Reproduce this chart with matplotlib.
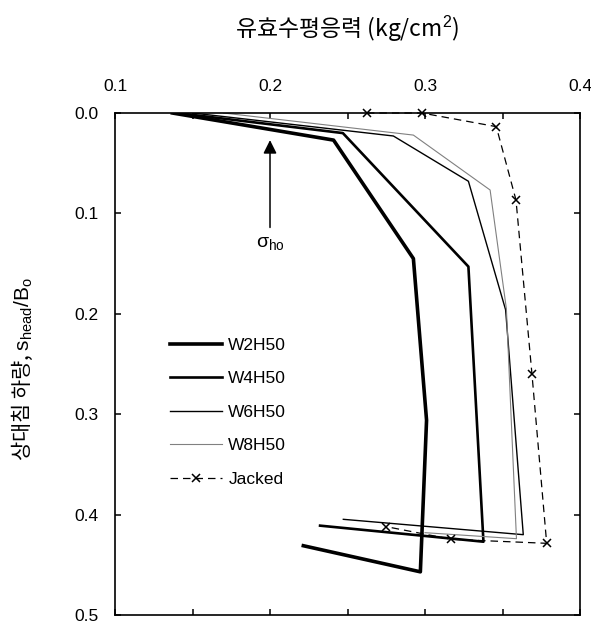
import matplotlib
matplotlib.use('Agg')
import matplotlib.pyplot as plt
from matplotlib.ticker import MultipleLocator

plt.rcParams['font.family'] = ['Liberation Sans', 'Noto Sans CJK KR', 'DejaVu Sans']
plt.rcParams['mathtext.fontset'] = 'custom'
plt.rcParams['mathtext.rm'] = 'Liberation Sans'
plt.rcParams['mathtext.it'] = 'Liberation Sans'

# curves (x: stress, y: relative settlement)
w2_x = [0.137, 0.241, 0.2925, 0.301, 0.297, 0.2215]
w2_y = [0.0, 0.027, 0.145, 0.306, 0.457, 0.431]
w4_x = [0.140, 0.247, 0.328, 0.3377, 0.2323]
w4_y = [0.0, 0.020, 0.153, 0.427, 0.411]
w6_x = [0.150, 0.2796, 0.328, 0.352, 0.3634, 0.2473]
w6_y = [0.0, 0.0229, 0.068, 0.196, 0.420, 0.4047]
w8_x = [0.170, 0.2925, 0.342, 0.3525, 0.359, 0.30]
w8_y = [0.0, 0.022, 0.0767, 0.195, 0.424, 0.418]
jk_x = [0.2625, 0.298, 0.346, 0.3587, 0.369, 0.3785, 0.317, 0.275]
jk_y = [0.0, 0.0, 0.0136, 0.0867, 0.26, 0.4286, 0.4246, 0.412]

sigma_ho = 0.2

fig = plt.figure(figsize=(5.91, 6.25), dpi=100)
ax = fig.add_axes([0.1946, 0.016, 0.7868, 0.8032])

ax.plot(w2_x, w2_y, color='black', lw=2.6, label='W2H50')
ax.plot(w4_x, w4_y, color='black', lw=1.9, label='W4H50')
ax.plot(w6_x, w6_y, color='black', lw=1.0, label='W6H50')
ax.plot(w8_x, w8_y, color='#808080', lw=0.8, label='W8H50')
ax.plot(jk_x, jk_y, color='black', lw=0.9, ls=(0, (6, 4)), marker='x',
        ms=6, mew=1.1, label='Jacked', clip_on=False)

# sigma_ho arrow
ax.annotate('', xy=(sigma_ho, 0.027), xytext=(sigma_ho, 0.114),
            arrowprops=dict(arrowstyle='-|>', color='black', lw=1.1,
                            mutation_scale=20, shrinkA=0, shrinkB=0))
ax.text(sigma_ho, 0.13, r'$\sigma_{\mathrm{ho}}$', ha='center', va='center', fontsize=14)

ax.set_xlim(0.1, 0.4)
ax.set_ylim(0.5, 0.0)
ax.xaxis.set_major_locator(MultipleLocator(0.1))
ax.xaxis.set_minor_locator(MultipleLocator(0.05))
ax.yaxis.set_major_locator(MultipleLocator(0.1))
ax.xaxis.set_major_formatter(plt.FuncFormatter(lambda v, p: f'{v:.1f}'))
ax.yaxis.set_major_formatter(plt.FuncFormatter(lambda v, p: f'{v:.1f}'))

ax.tick_params(axis='x', which='both', top=True, bottom=True, labeltop=True,
               labelbottom=False, direction='in', length=4, width=1.1, pad=14,
               labelsize=12.5)
ax.tick_params(axis='y', which='both', left=True, right=True, direction='in',
               length=4, width=1.1, pad=12, labelsize=12.5)
for s in ax.spines.values():
    s.set_linewidth(1.2)

ax.xaxis.set_label_position('top')
ax.set_xlabel('유효수평응력 (kg/cm$^2$)', fontsize=16.5, labelpad=30,
              family=['Noto Sans CJK KR'])
ax.set_ylabel('상대침 하량, $\\mathrm{s_{head}/B_o}$', fontsize=15,
              family=['Noto Sans CJK KR'], va='center')
ax.yaxis.set_label_coords(-0.2, 0.49)

ax.legend(loc='upper left', bbox_to_anchor=(0.085, 0.583), frameon=False,
          fontsize=12.5, handlelength=3.0, handletextpad=0.35, labelspacing=1.05)

fig.savefig('out.png', dpi=100)
